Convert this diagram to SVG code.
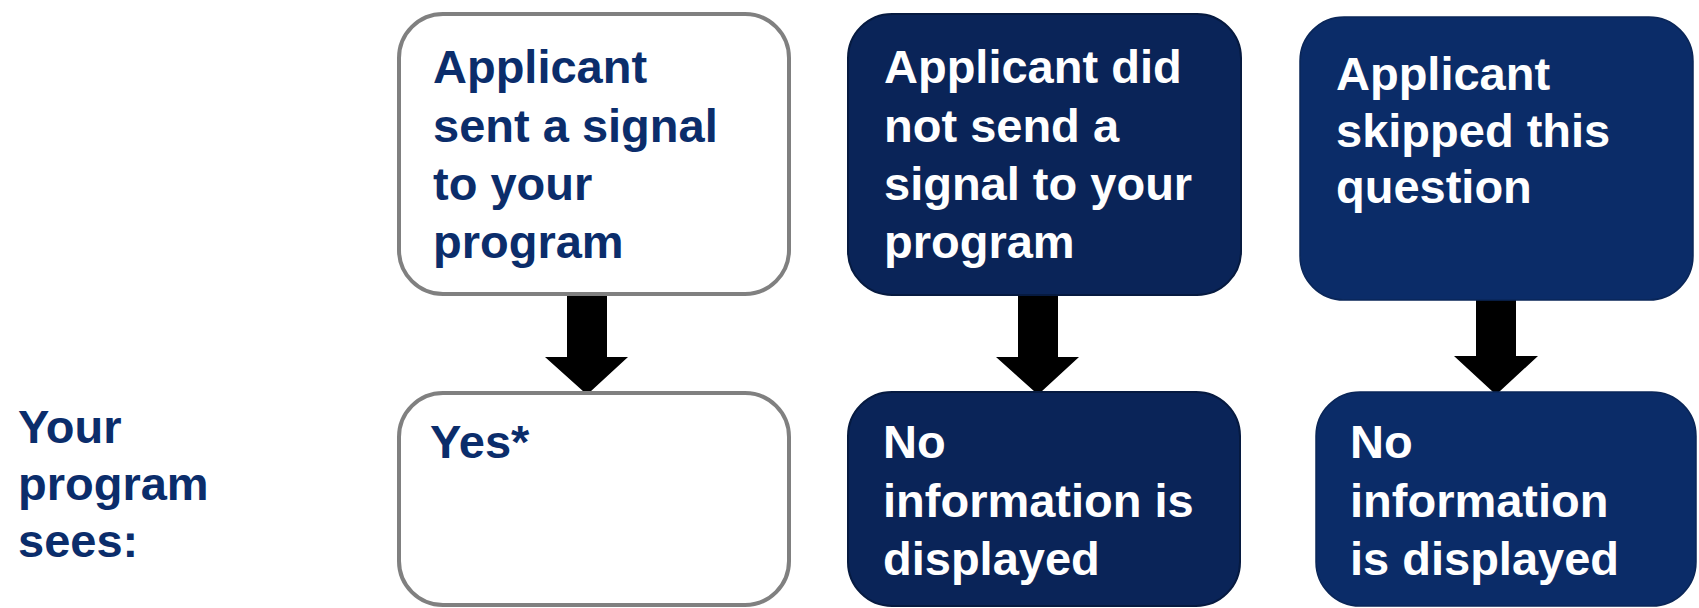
<svg xmlns="http://www.w3.org/2000/svg" width="1699" height="608" viewBox="0 0 1699 608">
<style>
text{font-family:"Liberation Sans",Arial,sans-serif;font-weight:bold;font-size:47px}
.navy{fill:#0b2d6b}
.white{fill:#ffffff}
.wbox{fill:#ffffff;stroke:#808080;stroke-width:4}
.dbox{fill:#0a2458;stroke:#061a40;stroke-width:2}
.mbox{fill:#0b2c68;stroke:#0a2658;stroke-width:1.5}
.arrow{fill:#000000}
</style>
<rect width="1699" height="608" fill="#ffffff"/>
<g id="label-sees">
<text class="navy" x="18" y="443">Your</text>
<text class="navy" x="18" y="500">program</text>
<text class="navy" x="18" y="557">sees:</text>
</g>
<g id="connectors">
<polygon class="arrow" points="567,295 607,295 607,357 628,357 590,392 584,392 545,357 567,357"/>
<polygon class="arrow" points="1018,295 1058,295 1058,357 1079,357 1041,392 1035,392 996,357 1018,357"/>
<polygon class="arrow" points="1476,299 1516,299 1516,356 1538,356 1499,392 1493,392 1454,356 1476,356"/>
</g>
<g id="node-sent">
<rect class="wbox" x="399" y="14" width="390" height="280" rx="44"/>
<text class="navy" x="433" y="83">Applicant</text>
<text class="navy" x="433" y="142">sent a signal</text>
<text class="navy" x="433" y="200">to your</text>
<text class="navy" x="433" y="258">program</text>
</g>
<g id="node-not-sent">
<rect class="dbox" x="848" y="14" width="393" height="281" rx="44"/>
<text class="white" x="884" y="83">Applicant did</text>
<text class="white" x="884" y="142">not send a</text>
<text class="white" x="884" y="200">signal to your</text>
<text class="white" x="884" y="258">program</text>
</g>
<g id="node-skipped">
<rect class="mbox" x="1300" y="17" width="393" height="283" rx="44"/>
<text class="white" x="1336" y="90">Applicant</text>
<text class="white" x="1336" y="147">skipped this</text>
<text class="white" x="1336" y="203">question</text>
</g>
<g id="node-yes">
<rect class="wbox" x="399" y="393" width="390" height="212" rx="44"/>
<text class="navy" x="430" y="458">Yes*</text>
</g>
<g id="node-noinfo-1">
<rect class="dbox" x="848" y="392" width="392" height="214" rx="44"/>
<text class="white" x="883" y="458">No</text>
<text class="white" x="883" y="517">information is</text>
<text class="white" x="883" y="575">displayed</text>
</g>
<g id="node-noinfo-2">
<rect class="mbox" x="1316" y="392" width="380" height="214" rx="44"/>
<text class="white" x="1350" y="458">No</text>
<text class="white" x="1350" y="517">information</text>
<text class="white" x="1350" y="575">is displayed</text>
</g>
</svg>
